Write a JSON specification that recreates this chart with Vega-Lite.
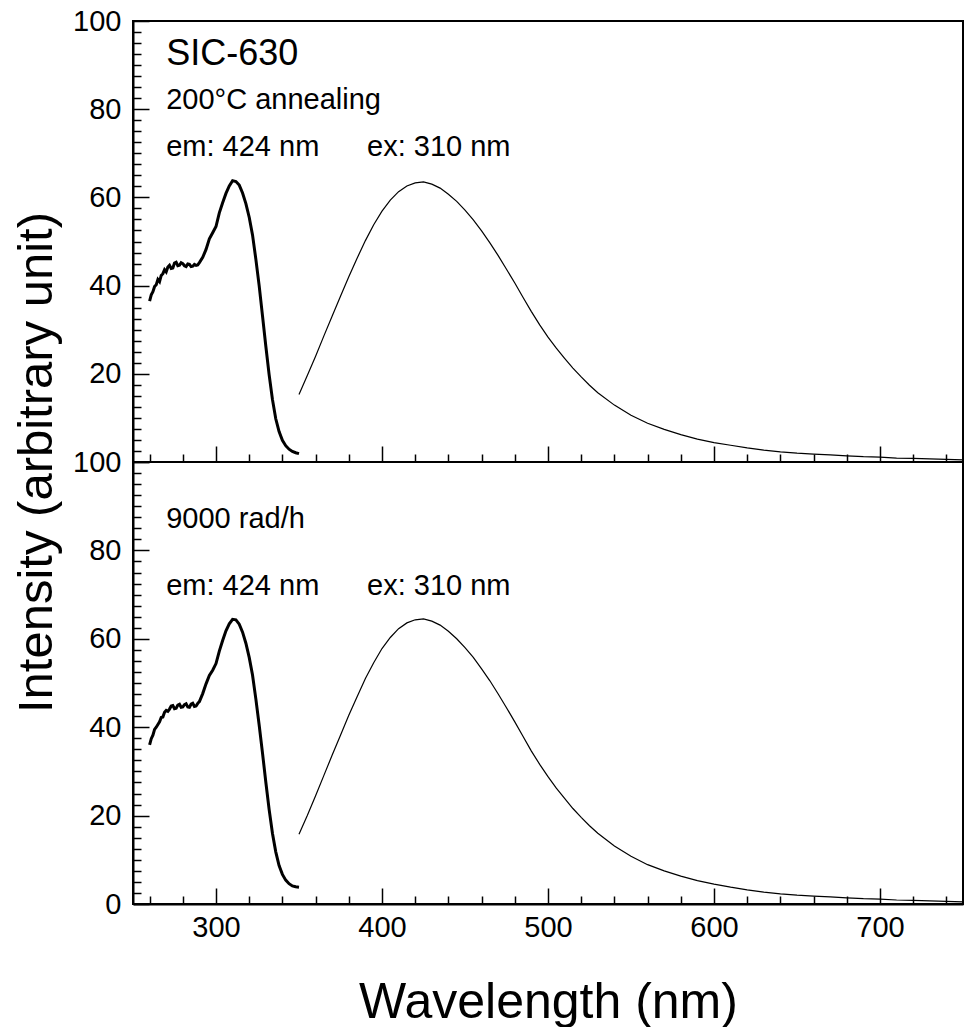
{
  "$schema": "https://vega.github.io/schema/vega-lite/v6.json",
  "padding": {"left": 11, "top": 6, "right": 0, "bottom": 0},
  "background": "white",
  "spacing": 0,
  "bounds": "flush",
  "datasets": {
    "top": [
      {"wl":260,"v":36.5,"s":"ex"},{"wl":261,"v":37.9,"s":"ex"},{"wl":262,"v":38.6,"s":"ex"},{"wl":263,"v":39.8,"s":"ex"},{"wl":264,"v":40.2,"s":"ex"},{"wl":265,"v":41.4,"s":"ex"},{"wl":266,"v":40.9,"s":"ex"},{"wl":267,"v":42.3,"s":"ex"},{"wl":268,"v":42.7,"s":"ex"},{"wl":269,"v":43.6,"s":"ex"},{"wl":270,"v":43.1,"s":"ex"},{"wl":271,"v":44.2,"s":"ex"},{"wl":272,"v":44.6,"s":"ex"},{"wl":273,"v":43.9,"s":"ex"},{"wl":274,"v":44.0,"s":"ex"},{"wl":275,"v":45.1,"s":"ex"},{"wl":276,"v":45.3,"s":"ex"},{"wl":277,"v":44.5,"s":"ex"},{"wl":278,"v":44.6,"s":"ex"},{"wl":279,"v":45.2,"s":"ex"},{"wl":280,"v":45.0,"s":"ex"},{"wl":281,"v":44.5,"s":"ex"},{"wl":282,"v":44.3,"s":"ex"},{"wl":283,"v":44.9,"s":"ex"},{"wl":284,"v":44.8,"s":"ex"},{"wl":285,"v":44.3,"s":"ex"},{"wl":286,"v":44.4,"s":"ex"},{"wl":287,"v":44.8,"s":"ex"},{"wl":288,"v":44.6,"s":"ex"},{"wl":289,"v":44.7,"s":"ex"},{"wl":290,"v":45.2,"s":"ex"},{"wl":292,"v":46.4,"s":"ex"},{"wl":294,"v":48.2,"s":"ex"},{"wl":296,"v":50.6,"s":"ex"},{"wl":298,"v":52.0,"s":"ex"},{"wl":300,"v":53.4,"s":"ex"},{"wl":302,"v":56.5,"s":"ex"},{"wl":304,"v":58.8,"s":"ex"},{"wl":306,"v":60.9,"s":"ex"},{"wl":308,"v":62.6,"s":"ex"},{"wl":310,"v":63.8,"s":"ex"},{"wl":312,"v":63.6,"s":"ex"},{"wl":314,"v":62.8,"s":"ex"},{"wl":316,"v":61.0,"s":"ex"},{"wl":318,"v":58.6,"s":"ex"},{"wl":320,"v":55.5,"s":"ex"},{"wl":322,"v":51.5,"s":"ex"},{"wl":324,"v":46.0,"s":"ex"},{"wl":326,"v":40.0,"s":"ex"},{"wl":328,"v":33.2,"s":"ex"},{"wl":330,"v":26.3,"s":"ex"},{"wl":332,"v":19.8,"s":"ex"},{"wl":334,"v":14.2,"s":"ex"},{"wl":336,"v":9.8,"s":"ex"},{"wl":338,"v":6.9,"s":"ex"},{"wl":340,"v":4.9,"s":"ex"},{"wl":342,"v":3.7,"s":"ex"},{"wl":344,"v":2.9,"s":"ex"},{"wl":346,"v":2.4,"s":"ex"},{"wl":348,"v":2.1,"s":"ex"},{"wl":350,"v":1.9,"s":"ex"},
      {"wl":350,"v":15.3,"s":"em"},{"wl":355,"v":19.6,"s":"em"},{"wl":360,"v":24.0,"s":"em"},{"wl":365,"v":28.6,"s":"em"},{"wl":370,"v":33.1,"s":"em"},{"wl":375,"v":37.6,"s":"em"},{"wl":380,"v":42.0,"s":"em"},{"wl":385,"v":46.2,"s":"em"},{"wl":390,"v":50.2,"s":"em"},{"wl":395,"v":53.8,"s":"em"},{"wl":400,"v":56.9,"s":"em"},{"wl":405,"v":59.4,"s":"em"},{"wl":410,"v":61.3,"s":"em"},{"wl":415,"v":62.6,"s":"em"},{"wl":420,"v":63.3,"s":"em"},{"wl":425,"v":63.5,"s":"em"},{"wl":430,"v":63.0,"s":"em"},{"wl":435,"v":62.1,"s":"em"},{"wl":440,"v":60.7,"s":"em"},{"wl":445,"v":59.1,"s":"em"},{"wl":450,"v":57.1,"s":"em"},{"wl":455,"v":54.9,"s":"em"},{"wl":460,"v":52.4,"s":"em"},{"wl":465,"v":49.7,"s":"em"},{"wl":470,"v":46.8,"s":"em"},{"wl":475,"v":43.7,"s":"em"},{"wl":480,"v":40.6,"s":"em"},{"wl":485,"v":37.3,"s":"em"},{"wl":490,"v":34.1,"s":"em"},{"wl":495,"v":31.1,"s":"em"},{"wl":500,"v":28.3,"s":"em"},{"wl":505,"v":25.8,"s":"em"},{"wl":510,"v":23.5,"s":"em"},{"wl":515,"v":21.3,"s":"em"},{"wl":520,"v":19.3,"s":"em"},{"wl":525,"v":17.4,"s":"em"},{"wl":530,"v":15.7,"s":"em"},{"wl":540,"v":12.9,"s":"em"},{"wl":550,"v":10.6,"s":"em"},{"wl":560,"v":8.8,"s":"em"},{"wl":570,"v":7.4,"s":"em"},{"wl":580,"v":6.2,"s":"em"},{"wl":590,"v":5.2,"s":"em"},{"wl":600,"v":4.4,"s":"em"},{"wl":610,"v":3.8,"s":"em"},{"wl":620,"v":3.2,"s":"em"},{"wl":630,"v":2.7,"s":"em"},{"wl":640,"v":2.3,"s":"em"},{"wl":650,"v":2.0,"s":"em"},{"wl":660,"v":1.8,"s":"em"},{"wl":670,"v":1.6,"s":"em"},{"wl":680,"v":1.4,"s":"em"},{"wl":690,"v":1.2,"s":"em"},{"wl":700,"v":1.1,"s":"em"},{"wl":710,"v":0.9,"s":"em"},{"wl":720,"v":0.8,"s":"em"},{"wl":730,"v":0.7,"s":"em"},{"wl":740,"v":0.6,"s":"em"},{"wl":750,"v":0.5,"s":"em"}
    ],
    "bottom": [
      {"wl":260,"v":36.0,"s":"ex"},{"wl":261,"v":37.4,"s":"ex"},{"wl":262,"v":38.2,"s":"ex"},{"wl":263,"v":39.5,"s":"ex"},{"wl":264,"v":40.0,"s":"ex"},{"wl":265,"v":40.6,"s":"ex"},{"wl":266,"v":41.2,"s":"ex"},{"wl":267,"v":42.2,"s":"ex"},{"wl":268,"v":42.3,"s":"ex"},{"wl":269,"v":43.4,"s":"ex"},{"wl":270,"v":43.8,"s":"ex"},{"wl":271,"v":43.6,"s":"ex"},{"wl":272,"v":44.1,"s":"ex"},{"wl":273,"v":44.8,"s":"ex"},{"wl":274,"v":44.9,"s":"ex"},{"wl":275,"v":44.2,"s":"ex"},{"wl":276,"v":44.3,"s":"ex"},{"wl":277,"v":45.0,"s":"ex"},{"wl":278,"v":45.2,"s":"ex"},{"wl":279,"v":44.5,"s":"ex"},{"wl":280,"v":44.6,"s":"ex"},{"wl":281,"v":45.1,"s":"ex"},{"wl":282,"v":45.3,"s":"ex"},{"wl":283,"v":44.6,"s":"ex"},{"wl":284,"v":44.5,"s":"ex"},{"wl":285,"v":45.2,"s":"ex"},{"wl":286,"v":45.4,"s":"ex"},{"wl":287,"v":44.7,"s":"ex"},{"wl":288,"v":44.8,"s":"ex"},{"wl":289,"v":45.4,"s":"ex"},{"wl":290,"v":45.8,"s":"ex"},{"wl":292,"v":47.6,"s":"ex"},{"wl":294,"v":49.8,"s":"ex"},{"wl":296,"v":51.7,"s":"ex"},{"wl":298,"v":52.9,"s":"ex"},{"wl":300,"v":54.4,"s":"ex"},{"wl":302,"v":57.2,"s":"ex"},{"wl":304,"v":59.6,"s":"ex"},{"wl":306,"v":61.8,"s":"ex"},{"wl":308,"v":63.4,"s":"ex"},{"wl":310,"v":64.4,"s":"ex"},{"wl":312,"v":64.3,"s":"ex"},{"wl":314,"v":63.3,"s":"ex"},{"wl":316,"v":61.5,"s":"ex"},{"wl":318,"v":59.0,"s":"ex"},{"wl":320,"v":55.8,"s":"ex"},{"wl":322,"v":51.8,"s":"ex"},{"wl":324,"v":46.4,"s":"ex"},{"wl":326,"v":40.5,"s":"ex"},{"wl":328,"v":34.2,"s":"ex"},{"wl":330,"v":27.6,"s":"ex"},{"wl":332,"v":21.4,"s":"ex"},{"wl":334,"v":16.0,"s":"ex"},{"wl":336,"v":11.8,"s":"ex"},{"wl":338,"v":8.7,"s":"ex"},{"wl":340,"v":6.7,"s":"ex"},{"wl":342,"v":5.4,"s":"ex"},{"wl":344,"v":4.6,"s":"ex"},{"wl":346,"v":4.1,"s":"ex"},{"wl":348,"v":3.9,"s":"ex"},{"wl":350,"v":3.8,"s":"ex"},
      {"wl":350,"v":15.8,"s":"em"},{"wl":355,"v":20.0,"s":"em"},{"wl":360,"v":24.5,"s":"em"},{"wl":365,"v":29.1,"s":"em"},{"wl":370,"v":33.7,"s":"em"},{"wl":375,"v":38.2,"s":"em"},{"wl":380,"v":42.7,"s":"em"},{"wl":385,"v":46.9,"s":"em"},{"wl":390,"v":51.0,"s":"em"},{"wl":395,"v":54.6,"s":"em"},{"wl":400,"v":57.8,"s":"em"},{"wl":405,"v":60.3,"s":"em"},{"wl":410,"v":62.3,"s":"em"},{"wl":415,"v":63.6,"s":"em"},{"wl":420,"v":64.3,"s":"em"},{"wl":425,"v":64.5,"s":"em"},{"wl":430,"v":64.0,"s":"em"},{"wl":435,"v":63.1,"s":"em"},{"wl":440,"v":61.7,"s":"em"},{"wl":445,"v":60.0,"s":"em"},{"wl":450,"v":58.0,"s":"em"},{"wl":455,"v":55.8,"s":"em"},{"wl":460,"v":53.2,"s":"em"},{"wl":465,"v":50.5,"s":"em"},{"wl":470,"v":47.5,"s":"em"},{"wl":475,"v":44.4,"s":"em"},{"wl":480,"v":41.2,"s":"em"},{"wl":485,"v":37.9,"s":"em"},{"wl":490,"v":34.6,"s":"em"},{"wl":495,"v":31.6,"s":"em"},{"wl":500,"v":28.8,"s":"em"},{"wl":505,"v":26.2,"s":"em"},{"wl":510,"v":23.9,"s":"em"},{"wl":515,"v":21.6,"s":"em"},{"wl":520,"v":19.6,"s":"em"},{"wl":525,"v":17.7,"s":"em"},{"wl":530,"v":16.0,"s":"em"},{"wl":540,"v":13.1,"s":"em"},{"wl":550,"v":10.8,"s":"em"},{"wl":560,"v":8.9,"s":"em"},{"wl":570,"v":7.5,"s":"em"},{"wl":580,"v":6.3,"s":"em"},{"wl":590,"v":5.3,"s":"em"},{"wl":600,"v":4.5,"s":"em"},{"wl":610,"v":3.8,"s":"em"},{"wl":620,"v":3.2,"s":"em"},{"wl":630,"v":2.7,"s":"em"},{"wl":640,"v":2.3,"s":"em"},{"wl":650,"v":2.0,"s":"em"},{"wl":660,"v":1.8,"s":"em"},{"wl":670,"v":1.6,"s":"em"},{"wl":680,"v":1.4,"s":"em"},{"wl":690,"v":1.2,"s":"em"},{"wl":700,"v":1.1,"s":"em"},{"wl":710,"v":0.9,"s":"em"},{"wl":720,"v":0.8,"s":"em"},{"wl":730,"v":0.7,"s":"em"},{"wl":740,"v":0.6,"s":"em"},{"wl":750,"v":0.5,"s":"em"}
    ],
    "topText": [
      {"wl":270,"v":90,"t":"SIC-630","k":"big"},
      {"wl":270,"v":80,"t":"200°C annealing","k":"small"},
      {"wl":270,"v":69.5,"t":"em: 424 nm","k":"small"},
      {"wl":391,"v":69.5,"t":"ex: 310 nm","k":"small"}
    ],
    "bottomText": [
      {"wl":270,"v":85,"t":"9000 rad/h","k":"small"},
      {"wl":270,"v":70,"t":"em: 424 nm","k":"small"},
      {"wl":391,"v":70,"t":"ex: 310 nm","k":"small"}
    ]
  },
  "vconcat": [
    {
      "width": 830,
      "height": 441,
      "encoding": {
        "x": {"field":"wl","type":"quantitative","scale":{"domain":[250,750],"nice":false,"zero":false},
          "axis":{"values":[260,280,300,320,340,360,380,400,420,440,460,480,500,520,540,560,580,600,620,640,660,680,700,720,740],
            "labels":false,"title":null,"domain":false,
            "tickSize":{"condition":{"test":"datum.value % 100 === 0","value":-16},"value":-8}}},
        "y": {"field":"v","type":"quantitative","scale":{"domain":[0,100],"nice":false},
          "axis":{"values":[0,2.5,5,7.5,10,12.5,15,17.5,20,22.5,25,27.5,30,32.5,35,37.5,40,42.5,45,47.5,50,52.5,55,57.5,60,62.5,65,67.5,70,72.5,75,77.5,80,82.5,85,87.5,90,92.5,95,97.5,100],
            "labelExpr":"(datum.value % 20 === 0 && datum.value > 0) ? datum.label : ''",
            "tickSize":{"condition":{"test":"datum.value % 20 === 0","value":-16},"value":-8},
            "labelPadding":28,
            "title":"Intensity (arbitrary unit)","titleX":-82,"titleY":441,"titleAlign":"center","titleBaseline":"alphabetic","titleAngle":-90,"titleFontSize":49}}
      },
      "layer": [
        {"data":{"name":"top"},"mark":{"type":"line","color":"black","clip":true},
          "encoding":{"strokeWidth":{"field":"s","type":"nominal","scale":{"domain":["ex","em"],"range":[3,1.2]},"legend":null}}},
        {"data":{"name":"topText"},"transform":[{"filter":"datum.k === 'big'"}],
          "mark":{"type":"text","align":"left","baseline":"alphabetic","fontSize":36,"font":"Liberation Sans","color":"black"},
          "encoding":{"text":{"field":"t"}}},
        {"data":{"name":"topText"},"transform":[{"filter":"datum.k === 'small'"}],
          "mark":{"type":"text","align":"left","baseline":"alphabetic","fontSize":29,"font":"Liberation Sans","color":"black"},
          "encoding":{"text":{"field":"t"}}}
      ]
    },
    {
      "width": 830,
      "height": 442,
      "encoding": {
        "x": {"field":"wl","type":"quantitative","scale":{"domain":[250,750],"nice":false,"zero":false},
          "axis":{"values":[260,280,300,320,340,360,380,400,420,440,460,480,500,520,540,560,580,600,620,640,660,680,700,720,740],
            "labelExpr":"datum.value % 100 === 0 ? datum.label : ''","labelPadding":25,"labelFlush":false,
            "tickSize":{"condition":{"test":"datum.value % 100 === 0","value":-16},"value":-8},
            "title":"Wavelength (nm)","titleY":113,"titleBaseline":"alphabetic","titleFontSize":50}},
        "y": {"field":"v","type":"quantitative","scale":{"domain":[0,100],"nice":false},
          "axis":{"values":[0,2.5,5,7.5,10,12.5,15,17.5,20,22.5,25,27.5,30,32.5,35,37.5,40,42.5,45,47.5,50,52.5,55,57.5,60,62.5,65,67.5,70,72.5,75,77.5,80,82.5,85,87.5,90,92.5,95,97.5,100],
            "labelExpr":"datum.value % 20 === 0 ? datum.label : ''",
            "tickSize":{"condition":{"test":"datum.value % 20 === 0","value":-16},"value":-8},
            "labelPadding":28,"title":null}}
      },
      "layer": [
        {"data":{"name":"bottom"},"mark":{"type":"line","color":"black","clip":true},
          "encoding":{"strokeWidth":{"field":"s","type":"nominal","scale":{"domain":["ex","em"],"range":[3,1.2]},"legend":null}}},
        {"data":{"name":"bottomText"},
          "mark":{"type":"text","align":"left","baseline":"alphabetic","fontSize":29,"font":"Liberation Sans","color":"black"},
          "encoding":{"text":{"field":"t"}}}
      ]
    }
  ],
  "config": {
    "font": "Liberation Sans",
    "view": {"stroke": "black", "strokeWidth": 2},
    "axis": {
      "grid": false,
      "domainColor": "black",
      "domainWidth": 2,
      "tickColor": "black",
      "tickWidth": 1.5,
      "labelColor": "black",
      "labelFont": "Liberation Sans",
      "labelFontSize": 29,
      "labelOverlap": false,
      "labelBound": false,
      "titleColor": "black",
      "titleFont": "Liberation Sans",
      "titleFontWeight": "normal"
    }
  }
}
